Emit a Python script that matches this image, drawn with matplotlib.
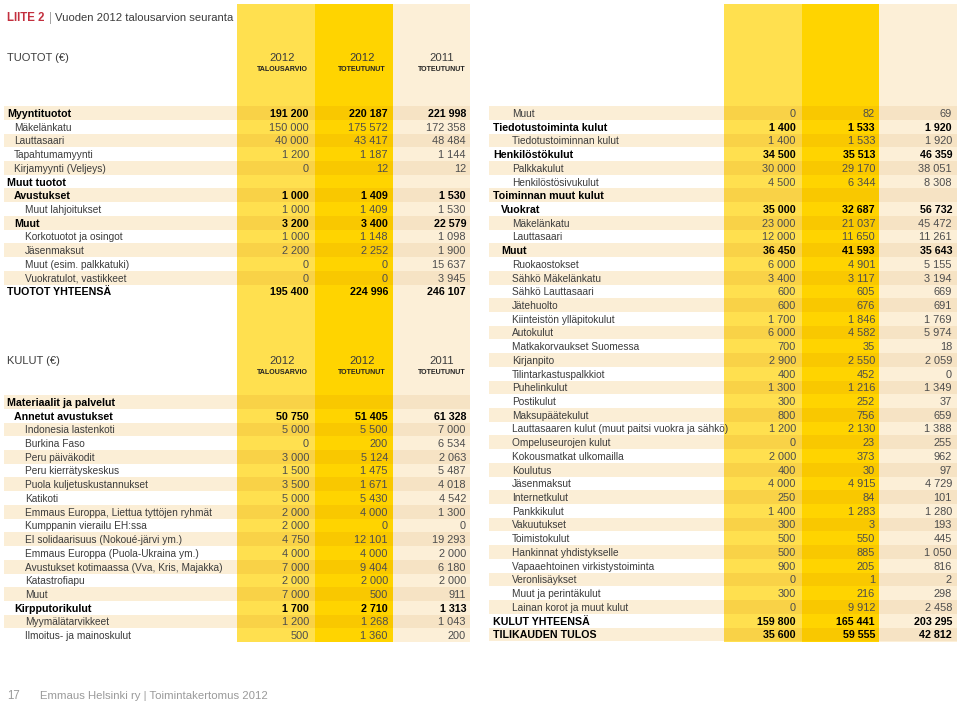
import matplotlib.pyplot as plt
from matplotlib.patches import Rectangle

plt.rcParams['font.family'] = ['Liberation Sans', 'DejaVu Sans']

# ---- data ----
# style: (indent, bold)
tuotot_labels = ['Myyntituotot', 'Mäkelänkatu', 'Lauttasaari', 'Tapahtumamyynti', 'Kirjamyynti (Veljeys)',
                 'Muut tuotot', 'Avustukset', 'Muut lahjoitukset', 'Muut', 'Korkotuotot ja osingot',
                 'Jäsenmaksut', 'Muut (esim. palkkatuki)', 'Vuokratulot, vastikkeet', 'TUOTOT YHTEENSÄ']
tuotot_style = [(0, 1), (1, 0), (1, 0), (1, 0), (1, 0),
                (0, 1), (1, 1), (2, 0), (1, 1), (2, 0),
                (2, 0), (2, 0), (2, 0), (0, 1)]
tuotot_tal2012 = [191200, 150000, 40000, 1200, 0, None, 1000, 1000, 3200, 1000, 2200, 0, 0, 195400]
tuotot_tot2012 = [220187, 175572, 43417, 1187, 12, None, 1409, 1409, 3400, 1148, 2252, 0, 0, 224996]
tuotot_tot2011 = [221998, 172358, 48484, 1144, 12, None, 1530, 1530, 22579, 1098, 1900, 15637, 3945, 246107]

kulut1_labels = ['Materiaalit ja palvelut', 'Annetut avustukset', 'Indonesia lastenkoti', 'Burkina Faso',
                 'Peru päiväkodit', 'Peru kierrätyskeskus', 'Puola kuljetuskustannukset', 'Katikoti',
                 'Emmaus Europpa, Liettua tyttöjen ryhmät', 'Kumppanin vierailu EH:ssa',
                 'EI solidaarisuus (Nokoué-järvi ym.)', 'Emmaus Europpa (Puola-Ukraina ym.)',
                 'Avustukset kotimaassa (Vva, Kris, Majakka)', 'Katastrofiapu', 'Muut',
                 'Kirpputorikulut', 'Myymälätarvikkeet', 'Ilmoitus- ja mainoskulut']
kulut1_style = [(0, 1), (1, 1)] + [(2, 0)] * 13 + [(1, 1), (2, 0), (2, 0)]
kulut1_tal2012 = [None, 50750, 5000, 0, 3000, 1500, 3500, 5000, 2000, 2000, 4750, 4000, 7000, 2000, 7000, 1700, 1200, 500]
kulut1_tot2012 = [None, 51405, 5500, 200, 5124, 1475, 1671, 5430, 4000, 0, 12101, 4000, 9404, 2000, 500, 2710, 1268, 1360]
kulut1_tot2011 = [None, 61328, 7000, 6534, 2063, 5487, 4018, 4542, 1300, 0, 19293, 2000, 6180, 2000, 911, 1313, 1043, 200]

kulut2_labels = ['Muut', 'Tiedotustoiminta kulut', 'Tiedotustoiminnan kulut', 'Henkilöstökulut',
                 'Palkkakulut', 'Henkilöstösivukulut', 'Toiminnan muut kulut', 'Vuokrat', 'Mäkelänkatu',
                 'Lauttasaari', 'Muut', 'Ruokaostokset', 'Sähkö Mäkelänkatu', 'Sähkö Lauttasaari',
                 'Jätehuolto', 'Kiinteistön ylläpitokulut', 'Autokulut', 'Matkakorvaukset Suomessa',
                 'Kirjanpito', 'Tilintarkastuspalkkiot', 'Puhelinkulut', 'Postikulut', 'Maksupäätekulut',
                 'Lauttasaaren kulut (muut paitsi vuokra ja sähkö)', 'Ompeluseurojen kulut',
                 'Kokousmatkat ulkomailla', 'Koulutus', 'Jäsenmaksut', 'Internetkulut', 'Pankkikulut',
                 'Vakuutukset', 'Toimistokulut', 'Hankinnat yhdistykselle', 'Vapaaehtoinen virkistystoiminta',
                 'Veronlisäykset', 'Muut ja perintäkulut', 'Lainan korot ja muut kulut',
                 'KULUT YHTEENSÄ', 'TILIKAUDEN TULOS']
kulut2_style = [(2, 0), (0, 1), (2, 0), (0, 1), (2, 0), (2, 0), (0, 1), (1, 1), (2, 0), (2, 0),
                (1, 1)] + [(2, 0)] * 26 + [(0, 1), (0, 1)]
kulut2_tal2012 = [0, 1400, 1400, 34500, 30000, 4500, None, 35000, 23000, 12000, 36450, 6000, 3400, 600,
                  600, 1700, 6000, 700, 2900, 400, 1300, 300, 800, 1200, 0, 2000, 400, 4000, 250, 1400,
                  300, 500, 500, 900, 0, 300, 0, 159800, 35600]
kulut2_tot2012 = [82, 1533, 1533, 35513, 29170, 6344, None, 32687, 21037, 11650, 41593, 4901, 3117, 605,
                  676, 1846, 4582, 35, 2550, 452, 1216, 252, 756, 2130, 23, 373, 30, 4915, 84, 1283,
                  3, 550, 885, 205, 1, 216, 9912, 165441, 59555]
kulut2_tot2011 = [69, 1920, 1920, 46359, 38051, 8308, None, 56732, 45472, 11261, 35643, 5155, 3194, 669,
                  691, 1769, 5974, 18, 2059, 0, 1349, 37, 659, 1388, 255, 962, 97, 4729, 101, 1280,
                  193, 445, 1050, 816, 2, 298, 2458, 203295, 42812]

col_years = ['2012', '2012', '2011']
col_subs = ['TALOUSARVIO', 'TOTEUTUNUT', 'TOTEUTUNUT']

# ---- style ----
W, H = 960, 703
STEP = 13.72
FS_LAB = 7.3     # normal row labels (narrow face in original)
FS_BOLD = 7.7
FS_NUM = 7.9
BASE = 3.9       # baseline offset from row centre
col_fill = ['#FFE04F', '#FFD400', '#FCEFD7']
col_stripe = ['#F9D247', '#F9C800', '#F6E3C4']
stripe_bg = '#FBEED6'
txt_norm = '#3c3c3c'
num_norm = '#4d4d4d'


def fmt(v):
    return f'{v:,}'.replace(',', ' ')


fig = plt.figure(figsize=(W / 100, H / 100), dpi=100)
ax = fig.add_axes([0, 0, 1, 1])
ax.set_xlim(0, W)
ax.set_ylim(H, 0)
ax.axis('off')

panels = {
    'left': dict(cols=[(237, 315), (315, 393), (393, 470)], right=[309, 388, 466],
                 x0=4, lab=7, indent=[0, 7, 18]),
    'right': dict(cols=[(724, 802), (802, 879), (879, 957)], right=[796, 875, 952],
                  x0=489, lab=493, indent=[0, 8, 19]),
}

# column backgrounds
for p in panels.values():
    for (a, b), c in zip(p['cols'], col_fill):
        ax.add_patch(Rectangle((a, 4), b - a, 642 - 4, color=c, lw=0, zorder=0))


def draw_table(p, y0, labels, style, v1, v2, v3):
    for i, lab in enumerate(labels):
        y = y0 + i * STEP
        if i % 2 == 0:
            a0 = p['x0']
            ax.add_patch(Rectangle((a0, y - STEP / 2), p['cols'][0][0] - a0, STEP,
                                   color=stripe_bg, lw=0, zorder=1))
            for (a, b), c in zip(p['cols'], col_stripe):
                ax.add_patch(Rectangle((a, y - STEP / 2), b - a, STEP, color=c, lw=0, zorder=1))
        ind, bold = style[i]
        ax.text(p['lab'] + p['indent'][ind], y + BASE, lab, fontsize=FS_BOLD if bold else FS_LAB,
                va='baseline', ha='left', fontweight='bold' if bold else 'normal',
                color='black' if bold else txt_norm, zorder=3)
        for xr, vals in zip(p['right'], (v1, v2, v3)):
            v = vals[i]
            if v is None:
                continue
            ax.text(xr, y + BASE, fmt(v), fontsize=FS_BOLD if bold else FS_NUM, va='baseline',
                    ha='right', fontweight='bold' if bold else 'normal',
                    color='black' if bold else num_norm, zorder=3)


def draw_header(y, title):
    ax.text(7, y + 4, title, fontsize=8.0, va='baseline', ha='left', color=txt_norm)
    for cx, yr, sub in zip([282, 362, 442], col_years, col_subs):
        ax.text(cx, y + 4, yr, fontsize=8.2, va='baseline', ha='center', color=txt_norm)
        ax.text(cx, y + 14, sub, fontsize=5.1, va='baseline', ha='center', fontweight='bold',
                color='#222222')


# title
ax.text(7, 21, 'LIITE 2', fontsize=8.3, va='baseline', ha='left', fontweight='bold', color='#C3303F')
ax.text(49, 21, '|', fontsize=8.3, va='baseline', ha='left', color='#999999')
ax.text(55, 21, 'Vuoden 2012 talousarvion seuranta', fontsize=8.1, va='baseline', ha='left',
        color=txt_norm)

draw_header(57, 'TUOTOT (€)')
draw_header(360, 'KULUT (€)')

draw_table(panels['left'], 113, tuotot_labels, tuotot_style, tuotot_tal2012, tuotot_tot2012, tuotot_tot2011)
draw_table(panels['left'], 402, kulut1_labels, kulut1_style, kulut1_tal2012, kulut1_tot2012, kulut1_tot2011)
draw_table(panels['right'], 113, kulut2_labels, kulut2_style, kulut2_tal2012, kulut2_tot2012, kulut2_tot2011)

# footer
ax.text(7, 699, '17', fontsize=8.3, va='baseline', ha='left', color='#9a9a9a')
ax.text(40, 699, 'Emmaus Helsinki ry | Toimintakertomus 2012', fontsize=8.2, va='baseline',
        ha='left', color='#9a9a9a')

fig.savefig('out.png', dpi=100)
